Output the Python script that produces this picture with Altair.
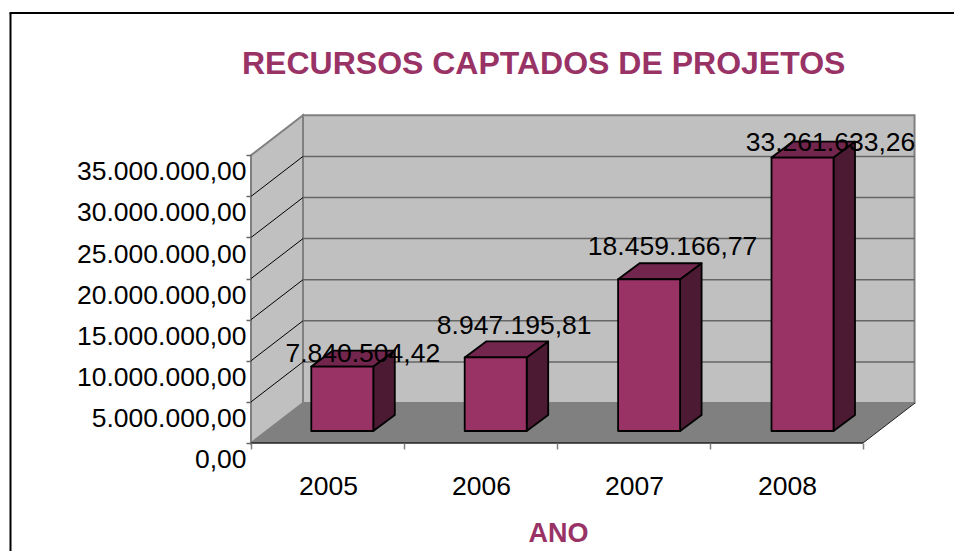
import altair as alt
import pandas as pd

YEARS = ["2005", "2006", "2007", "2008"]
VALUES = [7840504.42, 8947195.81, 18459166.77, 33261633.26]
LABELS = ["7.840.504,42", "8.947.195,81", "18.459.166,77", "33.261.633,26"]
Y_TICKS = [0, 5e6, 10e6, 15e6, 20e6, 25e6, 30e6, 35e6]

# layout constants
PX_X = 153.0            # pixels per category
PX_Y = 8.22 / 1e6       # pixels per unit of value
W, H = 664, 328
XMAX = W / PX_X
YMAX = H / PX_Y
DX = 52 / PX_X          # depth of the box
DY = 40 / PX_Y
BAR_START = 60.3 / PX_X
BAR_STEP = 153.4 / PX_X
BAR_W = 62 / PX_X
BAR_DX = 21.5 / PX_X
BAR_DY = 16 / PX_Y
BAR_BASE = 12 / PX_Y
LABEL_SHIFT_X = [20.5, 18.5, 23.5, 28]
LABEL_SHIFT_Y = [-3, 15.5, 16, -1]
TXT = 26.5

PLUM, PLUM_TOP, PLUM_SIDE = "#993366", "#73264D", "#4D1A33"
WALL, FLOOR, EDGE = "#C0C0C0", "#808080", "#808080"
FONT = "Liberation Sans"

xs = alt.Scale(domain=[0, XMAX], nice=False, zero=False)
ys = alt.Scale(domain=[0, YMAX], nice=False, zero=False)
X = lambda f="x": alt.X(f"{f}:Q", scale=xs, title="ANO")
Y = lambda f="y": alt.Y(f"{f}:Q", scale=ys, title=None)
X2 = lambda f="x2": alt.X2(f"{f}:Q")
Y2 = lambda f="y2": alt.Y2(f"{f}:Q")

n = len(YEARS)
top = Y_TICKS[-1]

# axes layer: real axes on an invisible helper mark
axes = alt.Chart(pd.DataFrame({"x": [0.0], "y": [0.0]})).mark_point(opacity=0).encode(
    x=alt.X("x:Q", scale=xs, title="ANO", axis=alt.Axis(
        values=list(range(n + 1)), domain=False, grid=False, tickSize=6,
        tickColor="#808080", tickWidth=1.5,
        labelExpr=f"datum.value < {n} ? {YEARS}[datum.value] : ''",
        labelFont=FONT, labelFontSize=TXT, labelColor="#000000", labelOffset=77,
        labelPadding=24, labelOverlap=False, labelFlush=False, labelBound=False,
        titleFont=FONT, titleFontSize=27, titleFontWeight="bold", titleColor=PLUM,
        titleX=307, titlePadding=21, zindex=1)),
    y=alt.Y("y:Q", scale=ys, title=None, axis=alt.Axis(
        values=Y_TICKS, domain=False, grid=False, tickSize=5,
        tickColor="#666666", tickWidth=1.5,
        labelExpr="datum.value == 0 ? '0,00' : format(datum.value / 1e6, '.0f') + '.000.000,00'",
        labelFont=FONT, labelFontSize=TXT, labelColor="#000000", labelOffset=16.5,
        labelPadding=0, labelOverlap=False, labelFlush=False, labelBound=False,
        zindex=1)),
)

back_wall = alt.Chart(pd.DataFrame([{"x": DX, "x2": XMAX - 0.003, "y": DY, "y2": top + DY}])).mark_rect(
    fill=WALL, stroke=EDGE, strokeWidth=2).encode(x=X(), x2=X2(), y=Y(), y2=Y2())

left_wall = alt.Chart(pd.DataFrame([
    {"x": 0.0, "y": 0.0, "y2": top},
    {"x": DX, "y": DY, "y2": top + DY},
])).mark_area(orient="vertical", fill=WALL, stroke=EDGE, strokeWidth=2, opacity=1).encode(x=X(), y=Y(), y2=Y2())

back_grid = alt.Chart(pd.DataFrame({"y": [v + DY for v in Y_TICKS[1:-1]], "x": DX, "x2": XMAX - 0.003})).mark_rule(
    color="#666666", strokeWidth=1.5).encode(x=X(), x2=X2(), y=Y())

left_grid_rows = []
for v in Y_TICKS[1:-1]:
    left_grid_rows += [{"k": v, "x": 0.0, "y": v}, {"k": v, "x": DX, "y": v + DY}]
left_grid = alt.Chart(pd.DataFrame(left_grid_rows)).mark_line(color="#000000", strokeWidth=1).encode(
    x=X(), y=Y(), detail="k:Q")

floor = alt.Chart(pd.DataFrame([
    {"y": 0.0, "x": 0.0, "x2": float(n)},
    {"y": DY, "x": DX, "x2": n + DX},
])).mark_area(orient="horizontal", fill=FLOOR, opacity=1).encode(y=Y(), x=X(), x2=X2())

floor_front = alt.Chart(pd.DataFrame({"x": [0.0], "x2": [float(n)], "y": [0.0]})).mark_rule(
    color="#222222", strokeWidth=1.5).encode(x=X(), x2=X2(), y=Y())
floor_right = alt.Chart(pd.DataFrame({"x": [float(n), n + DX], "y": [0.0, DY]})).mark_line(
    color="#222222", strokeWidth=1).encode(x=X(), y=Y())

fronts, sides, tops, texts = [], [], [], []
for i, (yr, v, lab) in enumerate(zip(YEARS, VALUES, LABELS)):
    x0 = i * BAR_STEP + BAR_START
    x1 = x0 + BAR_W
    y0 = BAR_BASE
    y1 = BAR_BASE + v
    fronts.append({"x": x0, "x2": x1, "y": y0, "y2": y1})
    sides += [
        {"k": yr, "x": x1, "y": y0, "y2": y1},
        {"k": yr, "x": x1 + BAR_DX, "y": y0 + BAR_DY, "y2": y1 + BAR_DY},
    ]
    tops += [
        {"k": yr, "y": y1, "x": x0, "x2": x1},
        {"k": yr, "y": y1 + BAR_DY, "x": x0 + BAR_DX, "x2": x1 + BAR_DX},
    ]
    texts.append({
        "x": (x0 + x1) / 2 + LABEL_SHIFT_X[i] / PX_X,
        "y": y1 + BAR_DY + LABEL_SHIFT_Y[i] / PX_Y,
        "t": lab,
    })

BAR_LINE = dict(stroke="#000000", strokeWidth=1.8, strokeJoin="round", opacity=1)
side_mark = alt.Chart(pd.DataFrame(sides)).mark_area(orient="vertical", fill=PLUM_SIDE, **BAR_LINE).encode(
    x=X(), y=Y(), y2=Y2(), detail="k:N")
top_mark = alt.Chart(pd.DataFrame(tops)).mark_area(orient="horizontal", fill=PLUM_TOP, **BAR_LINE).encode(
    y=Y(), x=X(), x2=X2(), detail="k:N")
front_mark = alt.Chart(pd.DataFrame(fronts)).mark_rect(fill=PLUM, **BAR_LINE).encode(
    x=X(), x2=X2(), y=Y(), y2=Y2())
text_mark = alt.Chart(pd.DataFrame(texts)).mark_text(
    font=FONT, fontSize=TXT, color="#000000", baseline="middle", align="center").encode(
    x=X(), y=Y(), text="t:N")

# outer frame of the picture (left and top edges only are in view)
frame_left = alt.Chart(pd.DataFrame({"a": [0]})).mark_rule(color="#000000", strokeWidth=2).encode(
    x=alt.value(-240.5), y=alt.value(-102), y2=alt.value(460))
frame_top = alt.Chart(pd.DataFrame({"a": [0]})).mark_rule(color="#000000", strokeWidth=2).encode(
    x=alt.value(-241.5), x2=alt.value(720), y=alt.value(-102))

chart = alt.layer(
    axes, back_wall, left_wall, back_grid, left_grid, floor, floor_front, floor_right,
    side_mark, top_mark, front_mark, text_mark, frame_left, frame_top,
).properties(
    width=W, height=H,
    padding={"left": 243, "top": 107, "right": 39, "bottom": 108},
    autosize=alt.AutoSizeParams(type="none"),
    title=alt.TitleParams(
        "RECURSOS CAPTADOS DE PROJETOS", font=FONT, fontSize=32, fontWeight="bold",
        color=PLUM, anchor="start", frame="group", dx=-9, dy=69, offset=0),
).configure_view(stroke=None)

chart.save("out.html", embed_options={"renderer": "svg", "actions": False})
